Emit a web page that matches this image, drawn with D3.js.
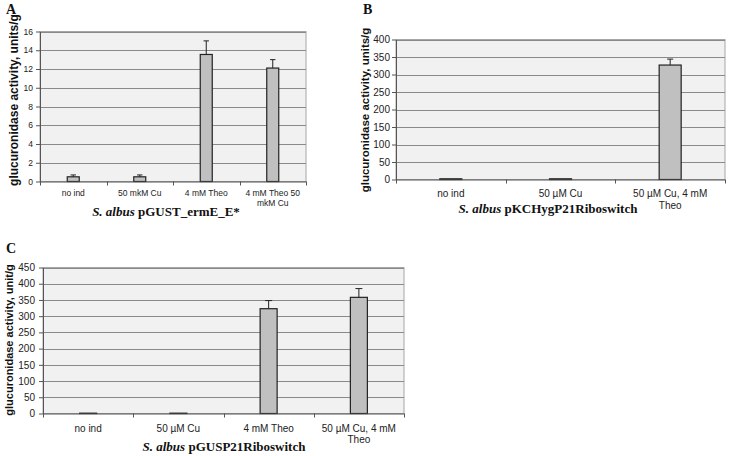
<!DOCTYPE html>
<html>
<head>
<meta charset="utf-8">
<script src="https://cdn.jsdelivr.net/npm/d3@7"></script>
<style>
  body { margin: 0; background: #fff; }
  svg text { font-family: "Liberation Sans", Arial, sans-serif; }
</style>
</head>
<body>
<div id="chart"></div>
<script>
// Panel A data
var catsA = [["no ind"], ["50 mkM Cu"], ["4 mM Theo"], ["4 mM Theo 50", "mkM Cu"]];
var valsA = [0.5, 0.5, 13.55, 12.1];
var errsA = [0.2, 0.2, 1.45, 0.9];
var ticksA = [0, 2, 4, 6, 8, 10, 12, 14, 16];

// Panel B data
var catsB = [["no ind"], ["50 µM Cu"], ["50 µM Cu, 4 mM", "Theo"]];
var valsB = [2, 2, 327];
var errsB = [0, 0, 17];
var ticksB = [0, 50, 100, 150, 200, 250, 300, 350, 400];

// Panel C data
var catsC = [["no ind"], ["50 µM Cu"], ["4 mM Theo"], ["50 µM Cu, 4 mM", "Theo"]];
var valsC = [1, 1, 323, 358];
var errsC = [0, 0, 25, 27];
var ticksC = [0, 50, 100, 150, 200, 250, 300, 350, 400, 450];

var svg = d3.select("#chart").append("svg")
  .attr("width", 729)
  .attr("height", 456);

// draws one bar panel
function drawPanel(p) {
  var g = svg.append("g");

  var x = d3.scaleBand()
    .domain(d3.range(p.cats.length))
    .range([p.left, p.right]);

  var y = d3.scaleLinear()
    .domain([0, d3.max(p.ticks)])
    .range([p.bottom, p.top]);

  // plot background
  g.append("rect")
    .attr("x", p.left)
    .attr("y", p.top)
    .attr("width", p.right - p.left)
    .attr("height", p.bottom - p.top)
    .attr("fill", "#f1f1f1")
    .attr("stroke", "#a6a6a6")
    .attr("stroke-width", 1);

  // gridlines
  g.selectAll(".grid")
    .data(p.ticks.slice(1))
    .enter()
    .append("line")
    .attr("x1", p.left)
    .attr("x2", p.right)
    .attr("y1", d => Math.round(y(d)) + 0.5)
    .attr("y2", d => Math.round(y(d)) + 0.5)
    .attr("stroke", "#8a8a8a")
    .attr("stroke-width", 1);

  // bars
  var bw = p.barWidth;
  g.selectAll(".bar")
    .data(p.vals)
    .enter()
    .append("rect")
    .attr("x", (d, i) => x(i) + x.bandwidth() / 2 - bw / 2)
    .attr("y", d => y(d))
    .attr("width", bw)
    .attr("height", d => p.bottom - y(d))
    .attr("fill", "#c0c0c0")
    .attr("stroke", "#222")
    .attr("stroke-width", 1.2);

  // error bars
  p.vals.forEach(function(v, i) {
    if (!p.errs[i]) return;
    var cx = x(i) + x.bandwidth() / 2;
    g.append("line")
      .attr("x1", cx).attr("x2", cx)
      .attr("y1", y(v)).attr("y2", y(v + p.errs[i]))
      .attr("stroke", "#222");
    g.append("line")
      .attr("x1", cx - p.cap).attr("x2", cx + p.cap)
      .attr("y1", y(v + p.errs[i])).attr("y2", y(v + p.errs[i]))
      .attr("stroke", "#222");
  });

  // y axis
  var yAxis = g.append("g")
    .attr("transform", `translate(${p.left}, 0)`)
    .call(d3.axisLeft(y).tickValues(p.ticks).tickSize(4).tickSizeOuter(0));
  yAxis.select(".domain").attr("stroke", "#555");
  yAxis.selectAll(".tick line").attr("stroke", "#555");
  yAxis.selectAll("text")
    .style("font-size", p.tickFont + "px")
    .attr("fill", "#222")
    .attr("x", -p.tickPad);

  // x axis with ticks at category boundaries
  var xAxis = g.append("g")
    .attr("transform", `translate(0, ${p.bottom})`);
  xAxis.append("line")
    .attr("x1", p.left).attr("x2", p.right)
    .attr("y1", 0.5).attr("y2", 0.5)
    .attr("stroke", "#555");
  xAxis.selectAll(".xt")
    .data(d3.range(p.cats.length + 1))
    .enter()
    .append("line")
    .attr("x1", i => Math.round(p.left + i * x.step()) + 0.5)
    .attr("x2", i => Math.round(p.left + i * x.step()) + 0.5)
    .attr("y1", 0).attr("y2", 4)
    .attr("stroke", "#555");

  var labels = g.selectAll(".xl")
    .data(p.cats)
    .enter()
    .append("text")
    .attr("text-anchor", "middle")
    .attr("fill", "#222")
    .style("font-size", p.catFont + "px")
    .attr("transform", (d, i) => `translate(${x(i) + x.bandwidth() / 2}, ${p.catY})`);
  labels.selectAll("tspan")
    .data(d => d)
    .enter()
    .append("tspan")
    .attr("x", 0)
    .attr("dy", (d, i) => i === 0 ? 0 : p.catLine)
    .text(d => d);

  // y title
  g.append("text")
    .attr("transform", `translate(${p.yTitleX}, ${p.yTitleY}) rotate(-90)`)
    .attr("text-anchor", "middle")
    .style("font-size", p.yTitleFont + "px")
    .style("font-weight", "bold")
    .attr("fill", "#111")
    .text(p.yTitle);

  // x title
  var xt = g.append("text")
    .attr("x", p.xTitleX)
    .attr("y", p.xTitleY)
    .attr("text-anchor", "middle")
    .style("font-family", "'Liberation Serif', 'Times New Roman', serif")
    .style("font-size", "13px")
    .style("font-weight", "bold")
    .attr("fill", "#111");
  xt.append("tspan").style("font-style", "italic").text("S. albus");
  xt.append("tspan").text(" " + p.xTitle);

  // panel letter
  g.append("text")
    .attr("x", p.letterX)
    .attr("y", p.letterY)
    .style("font-family", "'Liberation Serif', 'Times New Roman', serif")
    .style("font-size", "14px")
    .style("font-weight", "bold")
    .attr("fill", "#111")
    .text(p.letter);
}

drawPanel({
  cats: catsA, vals: valsA, errs: errsA, ticks: ticksA,
  left: 40, right: 306, top: 31.5, bottom: 181.5,
  barWidth: 12, cap: 2.7, tickFont: 8.5, tickPad: 7, catFont: 8.5, catY: 196, catLine: 10,
  yTitle: "glucuronidase activity, units/g", yTitleX: 18, yTitleY: 100, yTitleFont: 12,
  xTitle: "pGUST_ermE_E*", xTitleX: 166, xTitleY: 216,
  letter: "A", letterX: 6, letterY: 14
});

drawPanel({
  cats: catsB, vals: valsB, errs: errsB, ticks: ticksB,
  left: 396, right: 725, top: 39.5, bottom: 179.5,
  barWidth: 22, cap: 3, tickFont: 10, tickPad: 6, catFont: 10, catY: 197, catLine: 12,
  yTitle: "glucuronidase activity, units/g", yTitleX: 369, yTitleY: 110, yTitleFont: 11.5,
  xTitle: "pKCHygP21Riboswitch", xTitleX: 548, xTitleY: 213,
  letter: "B", letterX: 363, letterY: 14
});

drawPanel({
  cats: catsC, vals: valsC, errs: errsC, ticks: ticksC,
  left: 43, right: 404, top: 267.5, bottom: 413.5,
  barWidth: 17, cap: 3.5, tickFont: 10, tickPad: 8, catFont: 10, catY: 432, catLine: 11,
  yTitle: "glucuronidase activity, unit/g", yTitleX: 13, yTitleY: 340, yTitleFont: 11,
  xTitle: "pGUSP21Riboswitch", xTitleX: 224, xTitleY: 451,
  letter: "C", letterX: 6, letterY: 253
});
</script>
</body>
</html>
